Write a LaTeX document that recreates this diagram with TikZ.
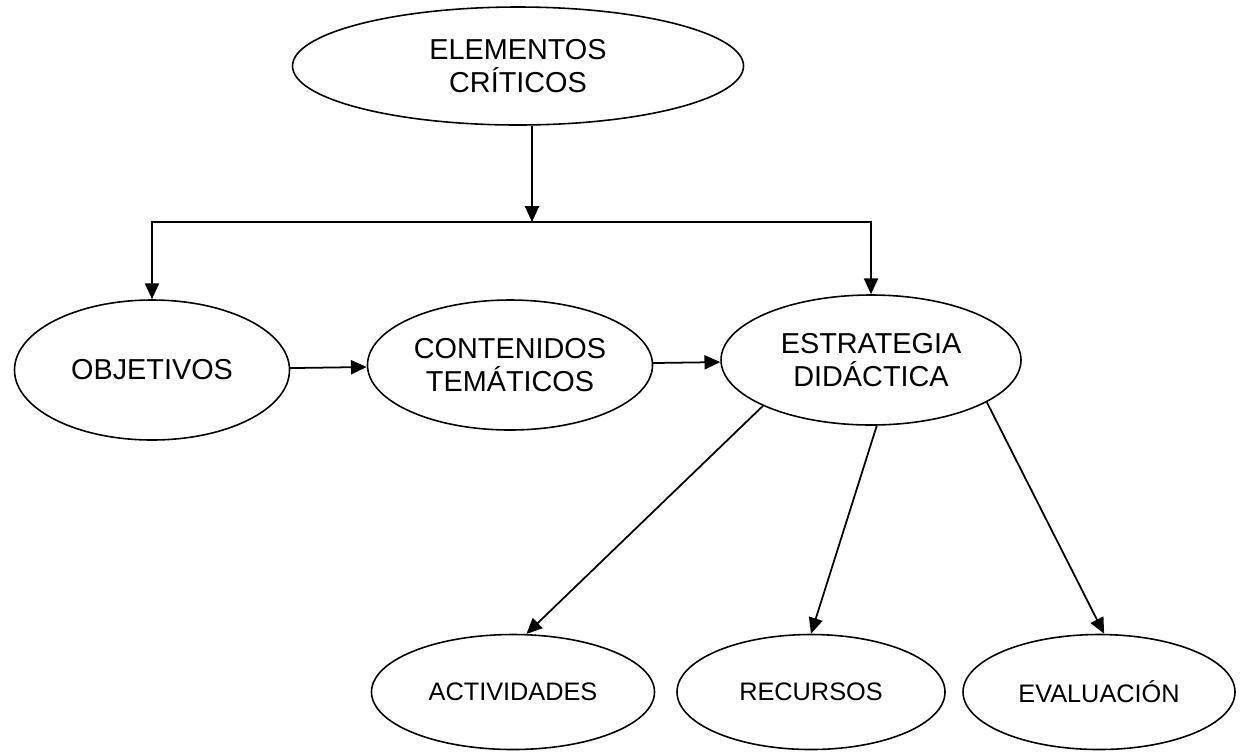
\documentclass[tikz,border=0pt]{standalone}
\usepackage{fontspec}
\setmainfont{Liberation Sans}
\usetikzlibrary{shapes.geometric,arrows.meta}

\tikzset{bubble/.style={draw,ellipse,line width=0.9pt,inner sep=0pt,align=center,font=\fontsize{16.4}{18.5}\selectfont}}
\tikzset{smallbubble/.style={bubble,font=\fontsize{14.4}{17}\selectfont}}
\tikzset{link/.style={->,>={Triangle[length=9pt,width=8pt]},line width=1pt}}

\begin{document}
\begin{tikzpicture}
        \useasboundingbox (0,0) rectangle (25.04,-15.06);
        % draw the ellipses
        \node[bubble,minimum width=9.02cm,minimum height=2.36cm] (top) at (10.36,-1.32) {ELEMENTOS\\CRÍTICOS};
        \node[bubble,minimum width=5.5cm,minimum height=2.8cm] (objetivos) at (3.04,-7.4) {OBJETIVOS};
        \node[bubble,minimum width=5.7cm,minimum height=2.6cm] (contenidos) at (10.2,-7.3) {CONTENIDOS\\TEMÁTICOS};
        \node[bubble,minimum width=6.0cm,minimum height=2.6cm] (estrategia) at (17.42,-7.2) {ESTRATEGIA\\DIDÁCTICA};
        \node[smallbubble,minimum width=5.66cm,minimum height=2.3cm] (actividades) at (10.26,-13.84) {ACTIVIDADES};
        \node[smallbubble,minimum width=5.36cm,minimum height=2.3cm] (recursos) at (16.22,-13.84) {RECURSOS};
        \node[smallbubble,minimum width=5.44cm,minimum height=2.3cm] (evaluacion) at (21.98,-13.84) {EVALUACIÓN};

        % draw the split below the top
        \coordinate (split) at (10.64,-4.44);
        \draw[link] (top.south -| split) -- (split);
        \draw[link] (split) -| (objetivos);
        \draw[link] (split) -| (estrategia);

        % draw the chain
        \draw[link] (objetivos) -- (contenidos);
        \draw[link] (contenidos) -- (estrategia);

        % draw the branches
        \draw[link] (estrategia.203) -- (actividades.77);
        \draw[link] (estrategia.275) -- (recursos.north);
        \draw[link] (estrategia.340) -- (evaluacion.85);
    \end{tikzpicture}
\end{document}
